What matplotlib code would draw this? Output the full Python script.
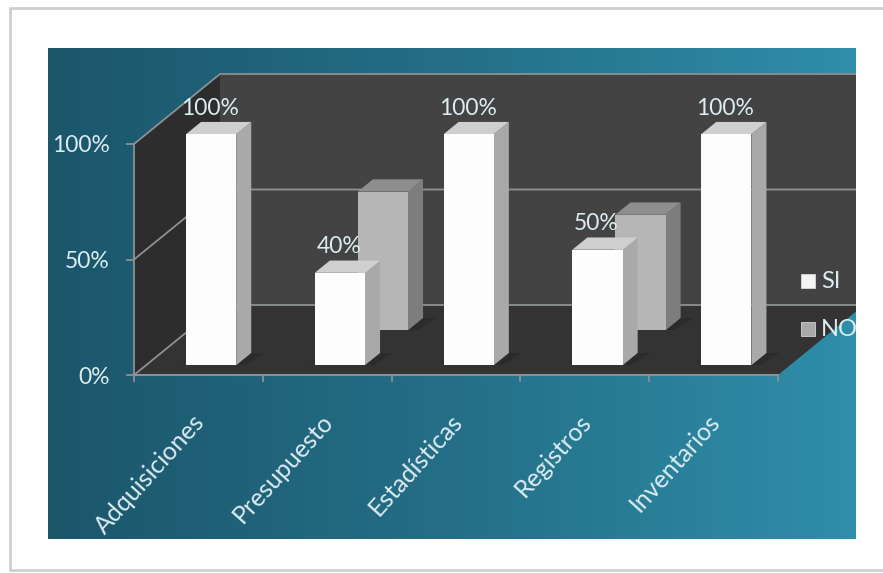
import numpy as np
import matplotlib
matplotlib.use('Agg')
import matplotlib.pyplot as plt
from matplotlib.colors import LinearSegmentedColormap
from matplotlib.patches import Polygon, Rectangle

categories = ['Adquisiciones', 'Presupuesto', 'Estadísticas', 'Registros', 'Inventarios']
si_values = [100, 40, 100, 50, 100]
no_values = [0, 60, 0, 50, 0]
y_ticks = [0, 50, 100]
legend_names = ['SI', 'NO']

# fake 3d: category/value/depth -> picture pixels
X0, Y0 = 134, 375
CAT_W, VAL_H = 128.8, 2.31
DEPTH_X, DEPTH_Y = 86, 70
BAR_OFF, BAR_W, BAR_D = 0.31, 0.39, 0.175

plt.rcParams['font.family'] = ['Lato', 'DejaVu Sans']
TEXT = '#dcecf1'


def proj(cat, val, depth=0.):
    return (X0 + cat*CAT_W + depth*DEPTH_X, Y0 - val*VAL_H - depth*DEPTH_Y)


def face(ax, pts, color, z, clip=None):
    p = Polygon([proj(*q) for q in pts], closed=True, fc=color, ec='none', zorder=z)
    ax.add_patch(p)
    if clip is not None:
        p.set_clip_path(clip)
    return p


def draw_bar(ax, cat, val, depth, front, side, top, z, clip):
    if val == 0:
        return
    l, r = cat + BAR_OFF, cat + BAR_OFF + BAR_W
    d2 = depth + BAR_D
    # shadow on the floor
    face(ax, [(r, 0, depth), (r+.07, 0, depth), (r+.1, 0, d2), (r, 0, d2)], '#2b2b2b', z, clip)
    face(ax, [(l-.06, 0, depth+.03), (l, 0, depth+.03), (l, 0, d2), (l-.03, 0, d2)], '#2e2e2e', z, clip)
    face(ax, [(r, 0, depth), (r, val, depth), (r, val, d2), (r, 0, d2)], side, z, clip)
    face(ax, [(l, val, depth), (r, val, depth), (r, val, d2), (l, val, d2)], top, z, clip)
    face(ax, [(l, 0, depth), (r, 0, depth), (r, val, depth), (l, val, depth)], front, z, clip)


fig = plt.figure(figsize=(8.83, 5.73), dpi=100, facecolor='white')
ax = fig.add_axes([0, 0, 1, 1])
ax.set_xlim(0, 883)
ax.set_ylim(573, 0)
ax.axis('off')

# page frame
ax.add_patch(Rectangle((10, 8), 890, 562, fc='white', ec='#cfcfcf', lw=2, zorder=0))

# chart area with its gradient
cmap = LinearSegmentedColormap.from_list('bg', ['#1b566b', '#246f87', '#2f8eaa'])
grad = np.linspace(0, 1, 256).reshape(1, -1)
ax.imshow(grad, extent=(48, 856, 539, 48), cmap=cmap, aspect='auto', zorder=1)
ax.set_xlim(0, 883)
ax.set_ylim(573, 0)
area = Rectangle((48, 48), 808, 491, fc='none', ec='none', transform=ax.transData)
ax.add_patch(area)

n = len(categories)
# walls and floor
face(ax, [(0, 0, 1), (n, 0, 1), (n, 100, 1), (0, 100, 1)], '#434343', 2, area)
face(ax, [(0, 0, 0), (0, 0, 1), (0, 100, 1), (0, 100, 0)], '#2d2d2d', 2, area)
face(ax, [(0, 0, 0), (n, 0, 0), (n, 0, 1), (0, 0, 1)], '#333333', 2, area)

GRID = '#8b9194'
for v in y_ticks:
    xs, ys = zip(proj(0, v, 0), proj(0, v, 1), proj(n, v, 1))
    line, = ax.plot(xs, ys, color=GRID, lw=1.3, zorder=3)
    line.set_clip_path(area)
    xs, ys = zip(proj(0, v, 0), (proj(0, v, 0)[0]-7, proj(0, v, 0)[1]))
    ax.plot(xs, ys, color=GRID, lw=1.3, zorder=3)
    ax.text(proj(0, v, 0)[0]-24, proj(0, v, 0)[1]+2, '%d%%' % v, color=TEXT, fontsize=16.5,
            ha='right', va='center', zorder=6)

xs, ys = zip(proj(0, 0, 0), proj(n, 0, 0))
ax.plot(xs, ys, color=GRID, lw=1.5, zorder=3)
xs, ys = zip(proj(0, 0, 0), proj(0, 100, 0))
ax.plot(xs, ys, color=GRID, lw=1.3, zorder=3)
for i in range(n+1):
    x, y = proj(i, 0, 0)
    ax.plot([x, x], [y, y+6], color=GRID, lw=1.3, zorder=3)

# back series first, front series covers it
for i, val in enumerate(no_values):
    draw_bar(ax, i, val, 0.64, '#b6b6b6', '#7d7d7d', '#8e8e8e', 4, area)
for i, val in enumerate(si_values):
    draw_bar(ax, i, val, 0.14, '#fdfdfd', '#a9a9a9', '#cfcfcf', 5, area)
    x, y = proj(i + BAR_OFF + BAR_W/2, val, 0.14)
    ax.text(x-1, y-26, '%d%%' % val, color=TEXT, fontsize=16.5, ha='center', va='center', zorder=6)

for i, name in enumerate(categories):
    x, y = proj(i, 0, 0)
    ax.text(x+58, y+35, name, color=TEXT, fontsize=18, rotation=48, ha='right', va='top',
            rotation_mode='anchor', zorder=6)

# legend, cut by the right edge of the chart area
legend_colors = ['#f4f4f4', '#a8a8a8']
for i, name in enumerate(legend_names):
    y = 281 + i*48
    ax.add_patch(Rectangle((801, y-7), 14, 14, fc=legend_colors[i], ec='#e6e6e6', lw=.5, zorder=6))
    t = ax.text(821, y, name, color=TEXT, fontsize=17, ha='left', va='center', zorder=6)
    t.set_clip_path(area)
    t.set_clip_on(True)

fig.savefig('out.png', dpi=100, facecolor='white')
